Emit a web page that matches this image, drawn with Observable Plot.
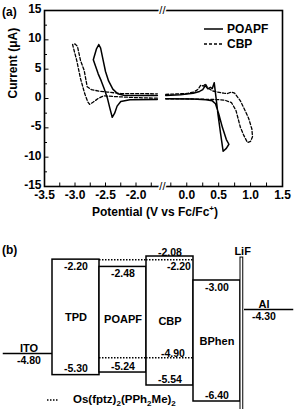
<!DOCTYPE html>
<html>
<head>
<meta charset="utf-8">
<script src="https://cdn.jsdelivr.net/npm/d3@7"></script>
<script src="https://cdn.jsdelivr.net/npm/@observablehq/plot@0.6"></script>
<style>
  html, body { margin: 0; padding: 0; background: #fff; }
  #fig { position: relative; width: 295px; height: 409px; overflow: hidden; background: #fff;
         font-family: "Liberation Sans", Arial, sans-serif; font-weight: bold; color: #000; }
  #fig > svg, #fig > div { position: absolute; left: 0; }
  .tag { font-size: 12px; line-height: 14px; white-space: nowrap; }
</style>
</head>
<body>
<div id="fig"></div>
<script>
// ---------- (a) cyclic voltammograms: potential (V vs Fc/Fc+) and current (µA) ----------
// NaN entries split each trace at the broken potential axis.
const poapfV = [0.43, 0.40, 0.37, 0.33, 0.29, 0.25, 0.20, 0.10, -0.10, -0.33, NaN,
  -1.65, -2.00, -2.20, -2.30, -2.38, -2.45, -2.50, -2.54, -2.58, -2.61, -2.65, -2.70,
  -2.66, -2.62, -2.57, -2.52, -2.47, -2.43, -2.39, -2.35, -2.31, -2.25, -2.10, -1.65, NaN,
  -0.33, 0.10, 0.30, 0.40, 0.45, 0.50, 0.56, 0.62, 0.66, 0.62, 0.57, 0.53, 0.49, 0.46, 0.43];
const poapfI = [2.7, 1.7, 1.9, 1.65, 2.2, 1.5, 1.2, 0.9, 0.65, 0.5, NaN,
  0.5, 0.5, 0.55, 0.8, 1.6, 3.0, 4.6, 6.6, 8.6, 9.2, 8.4, 6.6,
  5.4, 4.2, 3.0, 1.6, 0.1, -1.6, -3.2, -2.5, -1.3, -0.5, -0.2, -0.15, NaN,
  -0.05, -0.1, -0.2, -0.4, -0.9, -2.6, -5.0, -7.0, -7.8, -8.5, -9.0, -6.0, -2.8, 0.0, 2.7];

const cbpV = [-0.33, 0.00, 0.11, 0.18, 0.22, 0.26, 0.29, 0.33, 0.40, 0.48, 0.58, 0.64, 0.70, 0.75,
  0.84, 0.92, 0.97, 1.02, 1.03, 1.00, 0.95, 0.89, 0.84, 0.77, 0.70, 0.60, 0.50, 0.20, -0.33, NaN,
  -1.65, -2.00, -2.30, -2.53, -2.62, -2.70, -2.76, -2.79, -2.84, -2.91, -2.97, -3.04, -3.00,
  -2.96, -2.91, -2.85, -2.80, -2.73, -2.60, -2.47, -2.25, -1.65, NaN, -0.33];
const cbpI = [0.7, 0.85, 1.1, 1.6, 2.3, 2.1, 2.5, 1.8, 1.3, 1.1, 0.9, 0.85, 1.1, 0.9,
  -0.4, -2.2, -3.4, -5.2, -6.5, -7.3, -7.5, -6.2, -4.9, -2.0, -0.7, -0.3, -0.2, -0.1, -0.05, NaN,
  0.05, 0.15, 0.3, 0.45, 0.0, -0.6, -1.0, -0.6, 0.8, 3.4, 6.4, 9.2, 9.3,
  8.9, 6.5, 4.8, 2.0, 1.5, 1.25, 1.1, 0.85, 0.8, NaN, 0.7];

const seriesNames = ["POAPF", "CBP"];
const xTickLabels = [-3.5, -3.0, -2.5, -2.0, 0.0, 0.5, 1.0, 1.5];
const yTickLabels = [-15, -10, -5, 0, 5, 10, 15];
const xAxisTitle = "Potential (V vs Fc/Fc";
const yAxisTitle = "Current (μA)";

// ---------- (b) energy levels (eV) ----------
const layers = ["TPD", "POAPF", "CBP", "BPhen"];
const lumo = [-2.20, -2.48, -2.08, -3.00];
const homo = [-5.30, -5.24, -5.54, -6.40];
const electrodes = ["ITO", "Al"];
const workFunction = [-4.80, -4.30];
const dopantHosts = ["POAPF", "CBP"];
const dopantLevels = [-2.20, -4.90];
const lifTop = -2.12;

const FONT = "'Liberation Sans', Arial, sans-serif";
const fig = document.getElementById("fig");

// ---------------- panel (a) ----------------
const A = {width: 295, height: 222, top: 10, bottom: 36, left: 44, right: 13};
const innerW = A.width - A.left - A.right;
const innerH = A.height - A.top - A.bottom;
const rows = (V, I) => V.map((v, i) => ({V: v, I: I[i]}));
const poapf = rows(poapfV, poapfI);
const cbp = rows(cbpV, cbpI);

// broken potential axis: the -1.6…-0.35 V stretch is squeezed out
const brk = d3.scaleLinear().domain([-3.5, -1.6, -0.35, 1.5]).range([-3.5, -1.6, -1.534, 0.401]);
const breakMid = -0.975;
const xMinor = [...d3.range(-14, -6), ...d3.range(-1, 7)].map(k => k / 4);
const yMinor = d3.range(-6, 7).map(k => k * 2.5).filter(v => v % 5 !== 0);

const plotA = Plot.plot({
  width: A.width, height: A.height,
  marginTop: A.top, marginBottom: A.bottom, marginLeft: A.left, marginRight: A.right,
  style: {fontFamily: FONT, fontWeight: "bold", fontSize: "12px", color: "#000", background: "transparent", overflow: "visible"},
  x: {transform: brk, domain: [brk(-3.5), brk(1.5)], axis: null},
  y: {domain: [-15, 15], axis: null},
  marks: [
    Plot.tickX(xMinor, {x: d => d, insetTop: innerH - 3.5, stroke: "#000", strokeWidth: 1}),
    Plot.tickY(yMinor, {y: d => d, insetRight: innerW - 3, stroke: "#000", strokeWidth: 1}),
    Plot.tickY(yTickLabels, {y: d => d, insetRight: innerW - 4.5, stroke: "#000", strokeWidth: 1}),
    Plot.text(xTickLabels, {x: d => d, frameAnchor: "bottom", lineAnchor: "top", dy: 4, text: d => d.toFixed(1), fontSize: 12}),
    Plot.text(yTickLabels, {y: d => d, frameAnchor: "left", textAnchor: "end", dx: -3, dy: -1.5, text: d => String(d), fontSize: 12}),
    Plot.line(poapf, {x: "V", y: "I", stroke: "#000", strokeWidth: 1.5}),
    Plot.line(cbp, {x: "V", y: "I", stroke: "#000", strokeWidth: 1.3, strokeDasharray: "3,2"}),
    Plot.frame({stroke: "#000", strokeWidth: 1.6}),
    Plot.text([15, -15], {x: () => breakMid, y: d => d, text: () => "//", fill: "#000",
      stroke: "#fff", strokeWidth: 3, paintOrder: "stroke", fontSize: 11, fontWeight: "normal"}),
    Plot.text([yAxisTitle], {frameAnchor: "left", rotate: -90, dx: -31, fontSize: 12, fontWeight: "bold"})
  ]
});
plotA.style.top = "0px";
fig.appendChild(plotA);

// potential axis title with superscript
const xt = d3.select(plotA).append("text")
  .attr("x", 155).attr("y", 216).attr("text-anchor", "middle")
  .attr("font-size", 12).attr("font-weight", "bold").attr("fill", "#000");
xt.append("tspan").text(xAxisTitle);
xt.append("tspan").attr("dy", -5).attr("font-size", 8).text("+");
xt.append("tspan").attr("dy", 5).text(")");

// ---------------- panel (b) ----------------
const B = {top: 222, width: 295, height: 187};
// schematic (non-proportional) energy axis, as drawn in the level diagram
const ySch = d3.scaleLinear()
  .domain([-2.08, -3.00, -4.30, -4.80, -5.54, -6.40])
  .range([34, 58, 87, 131, 163, 179]);
const slots = ["ITO", ...layers, "Al"];
const xRangeB = [2.25, 288.75];
const bw = (xRangeB[1] - xRangeB[0]) / slots.length;

const layerRows = layers.map((name, i) => ({
  name, lumo: lumo[i], homo: homo[i],
  mid: ySch.invert((ySch(lumo[i]) + ySch(homo[i])) / 2)
}));
const electrodeRows = electrodes.map((name, i) => ({name, wf: workFunction[i]}));
const dopantRows = dopantHosts.flatMap(host => dopantLevels.map(level => ({host, level})));
const fmt = v => v.toFixed(2);
const tx = {fontSize: 10.5, fontWeight: "bold", fill: "#000"};

const plotB = Plot.plot({
  width: B.width, height: B.height,
  marginTop: 0, marginBottom: 0, marginLeft: 0, marginRight: 0,
  style: {fontFamily: FONT, fontWeight: "bold", fontSize: "10.5px", color: "#000", background: "transparent", overflow: "visible"},
  x: {type: "band", domain: slots, range: xRangeB, padding: 0, axis: null},
  y: {transform: ySch, domain: [B.height, 0], axis: null},
  marks: [
    Plot.barY(layerRows, {x: "name", y1: "lumo", y2: "homo", fill: "#fff", stroke: "#000", strokeWidth: 1.5}),
    Plot.tickY(dopantRows, {x: "host", y: "level", stroke: "#000", strokeWidth: 1.5, strokeDasharray: "1.5,1.5"}),
    Plot.tickY(electrodeRows.filter(d => d.name === "ITO"), {x: "name", y: "wf", stroke: "#000", strokeWidth: 1.5, insetLeft: -xRangeB[0]}),
    Plot.tickY(electrodeRows.filter(d => d.name === "Al"), {x: "name", y: "wf", stroke: "#000", strokeWidth: 1.5, insetLeft: 4, insetRight: -(B.width - xRangeB[1])}),
    Plot.barY([lifTop], {x: () => "Al", y1: d => d, y2: () => -7, insetRight: bw - 3.5, fill: "#fff", stroke: "#000", strokeWidth: 1}),
    // level values
    Plot.text(layerRows.filter(d => d.name !== "CBP"), {x: "name", y: "lumo", text: d => fmt(d.lumo), lineAnchor: "top", dy: 3, ...tx}),
    Plot.text(layerRows.filter(d => d.name === "CBP"), {x: "name", y: "lumo", text: d => fmt(d.lumo), lineAnchor: "bottom", dy: -1, ...tx}),
    Plot.text(layerRows, {x: "name", y: "homo", text: d => fmt(d.homo), lineAnchor: "bottom", dy: -3, ...tx}),
    Plot.text(layerRows, {x: "name", y: "mid", text: "name", ...tx, fontSize: 11}),
    Plot.text(electrodeRows, {x: "name", y: "wf", text: "name", lineAnchor: "bottom", dy: -2, ...tx, fontSize: 11}),
    Plot.text(electrodeRows, {x: "name", y: "wf", text: d => fmt(d.wf), lineAnchor: "top", dy: 3, ...tx}),
    Plot.text([dopantLevels[0]], {x: () => "CBP", y: d => d, text: fmt, textAnchor: "end", dx: bw / 2 - 3, lineAnchor: "top", dy: 3, ...tx}),
    Plot.text([dopantLevels[1]], {x: () => "CBP", y: d => d, text: fmt, textAnchor: "end", dx: bw / 2 - 9, lineAnchor: "bottom", dy: -1, ...tx}),
    Plot.text([lifTop], {x: () => "Al", y: d => d, text: () => "LiF", dx: -bw / 2 + 2.5, lineAnchor: "bottom", dy: -3, ...tx, fontSize: 11})
  ]
});
plotB.style.top = B.top + "px";
fig.appendChild(plotB);

// ---------------- panel tags and keys ----------------
function addDiv(html, left, top, extra = "") {
  const d = document.createElement("div");
  d.className = "tag";
  d.style.cssText = `left:${left}px;top:${top}px;${extra}`;
  d.innerHTML = html;
  fig.appendChild(d);
  return d;
}
addDiv("(a)", 2, 5);
addDiv("(b)", 2, 243);

const dashes = ["none", "3,2"];
seriesNames.forEach((name, i) => {
  const y = 22 + i * 15;
  addDiv(`<svg width="20" height="14" style="vertical-align:top"><line x1="0" x2="19" y1="7" y2="7" stroke="#000" stroke-width="1.5" stroke-dasharray="${dashes[i]}"/></svg>`, 204, y);
  addDiv(name, 227, y, "font-size:12px;");
});

addDiv(`<svg width="13" height="12" style="vertical-align:top"><line x1="0" x2="12" y1="6" y2="6" stroke="#000" stroke-width="1.5" stroke-dasharray="1.5,1.5"/></svg>`, 47, 394);
addDiv("Os(fptz)<sub style='font-size:8px;line-height:0'>2</sub>(PPh<sub style='font-size:8px;line-height:0'>2</sub>Me)<sub style='font-size:8px;line-height:0'>2</sub>", 73, 392, "font-size:11.5px;");
</script>
</body>
</html>
